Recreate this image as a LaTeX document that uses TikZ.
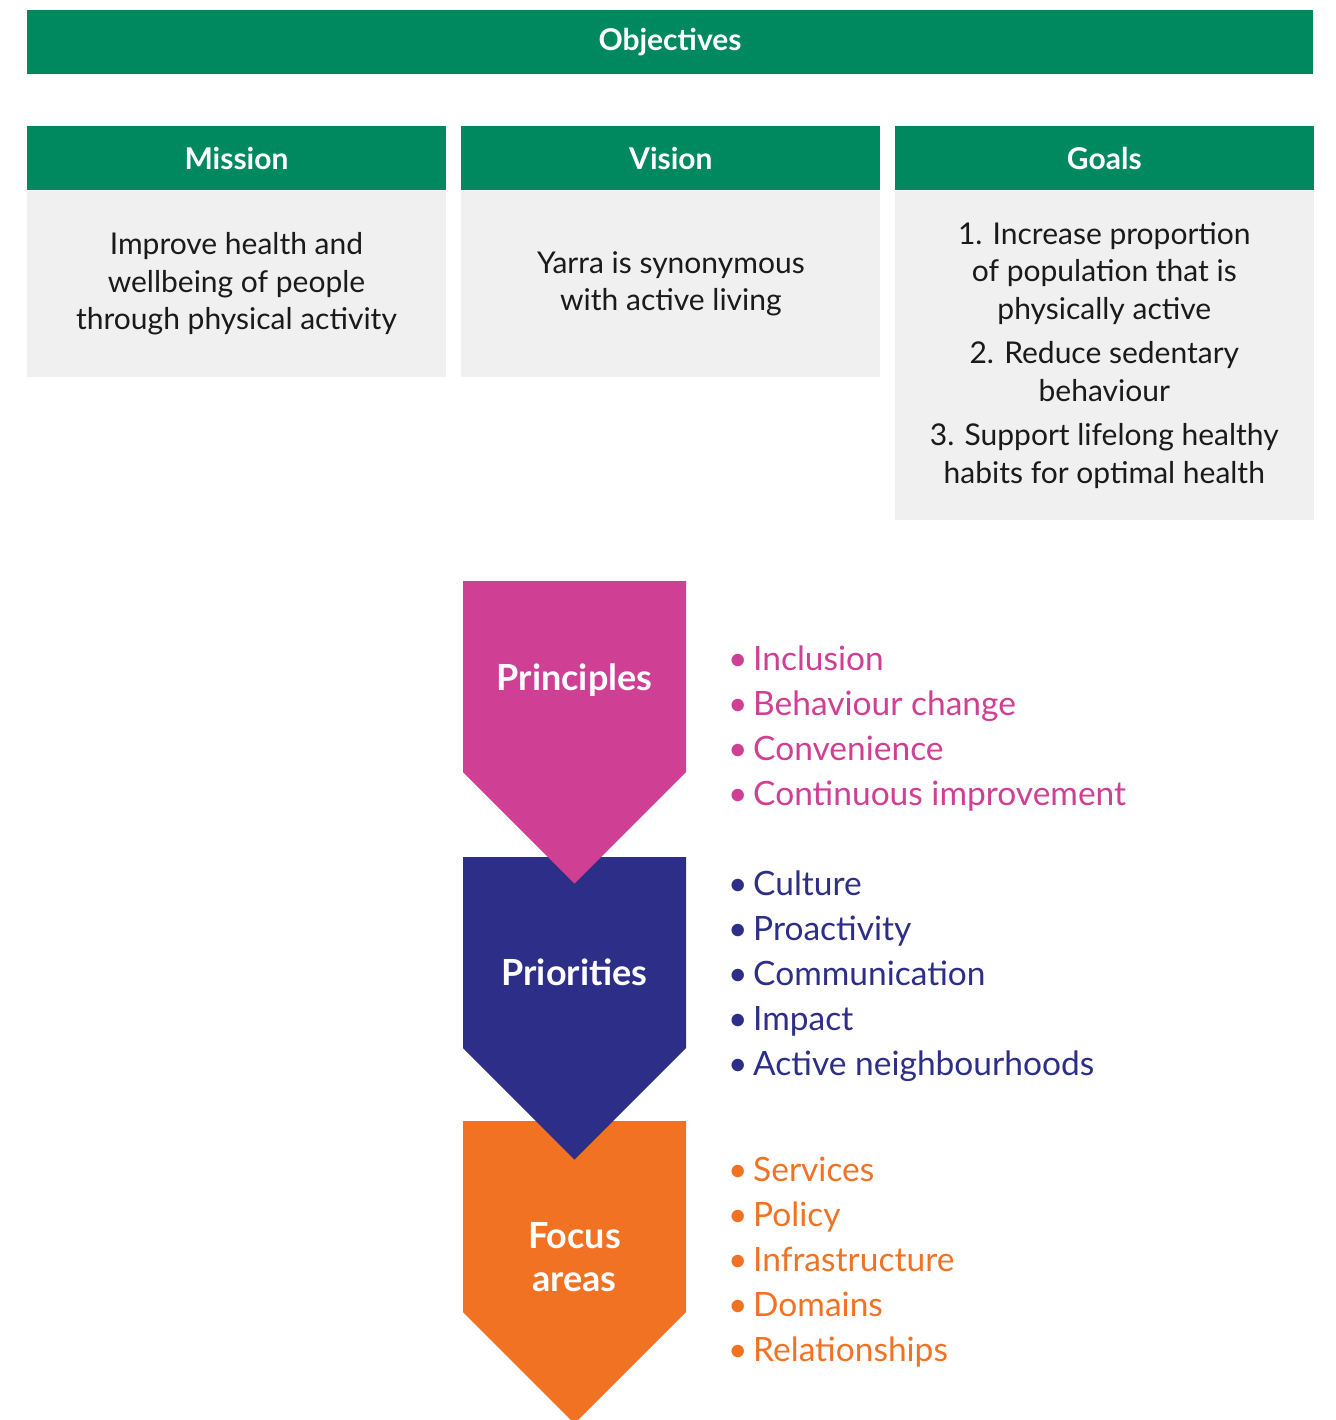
\documentclass[tikz,border=0pt]{standalone}
\usepackage{fontspec}
\setmainfont{Lato}
\usetikzlibrary{positioning}

\definecolor{objgreen}{HTML}{00885F}
\definecolor{boxgrey}{HTML}{F0F0F0}
\definecolor{princpink}{HTML}{CF3F93}
\definecolor{prionavy}{HTML}{2D2E87}
\definecolor{focusorange}{HTML}{F27224}
\definecolor{bodytext}{HTML}{1A1A1A}

\begin{document}
\begin{tikzpicture}[x=1pt, y=-1pt, node distance=15pt,
	hdr/.style={fill=objgreen, text=white, inner sep=0pt, minimum height=64pt,
		font=\bfseries\fontsize{30}{34}\selectfont},
	colhdr/.style={hdr, minimum width=419pt},
	body/.style={fill=boxgrey, text=bodytext, inner sep=0pt, minimum width=419pt,
		align=center, font=\fontsize{30}{37.5}\selectfont},
	tag/.style={text=white, align=center, inner sep=0pt,
		font=\bfseries\fontsize{36}{43}\selectfont},
	item/.style={anchor=base west, inner sep=0pt, font=\fontsize{33.5}{38}\selectfont}]
	\useasboundingbox (0,0) rectangle (1335,1420);

	% objectives bar and the three columns
	\node[hdr, minimum width=1286pt] (obj) at (670,42) {Objectives};
	\node[colhdr] (mission) at (236.5,158.5) {Mission};
	\node[colhdr, right=15pt of mission] (vision) {Vision};
	\node[colhdr, right=14pt of vision] (goals) {Goals};

	\node[body, minimum height=186pt, below=0pt of mission] (missiontxt)
		{Improve health and\\wellbeing of people\\through physical activity};
	\node[body, minimum height=186pt, below=0pt of vision] (visiontxt)
		{Yarra is synonymous\\with active living};
	\node[body, minimum height=329pt, below=0pt of goals] (goalstxt)
		{1. Increase proportion\\of population that is\\physically active\\[7pt]
		 2. Reduce sedentary\\behaviour\\[7pt]
		 3. Support lifelong healthy\\habits for optimal health};

	% chevrons (drawn bottom up so each tip lies over the next one)
	\foreach \top/\col in {1121/focusorange, 857/prionavy, 581/princpink}
		\fill[\col] (463,\top) -- (686,\top) -- (686,\top+191) -- (574.5,\top+302.5)
			-- (463,\top+191) -- cycle;

	\node[tag] (principles) at (574.5,680) {Principles};
	\node[tag] (priorities) at (574.5,972) {Priorities};
	\node[tag] (focus) at (574.5,1257) {Focus\\areas};

	% bullet lists
	\foreach \t [count=\i] in {Inclusion, Behaviour change, Convenience, Continuous improvement}
		\node[item, text=princpink] (pitem\i) at (728,625+45*\i) {\textbullet\,\t};
	\foreach \t [count=\i] in {Culture, Proactivity, Communication, Impact, Active neighbourhoods}
		\node[item, text=prionavy] (ritem\i) at (728,850+45*\i) {\textbullet\,\t};
	\foreach \t [count=\i] in {Services, Policy, Infrastructure, Domains, Relationships}
		\node[item, text=focusorange] (fitem\i) at (728,1136+45*\i) {\textbullet\,\t};
\end{tikzpicture}
\end{document}
